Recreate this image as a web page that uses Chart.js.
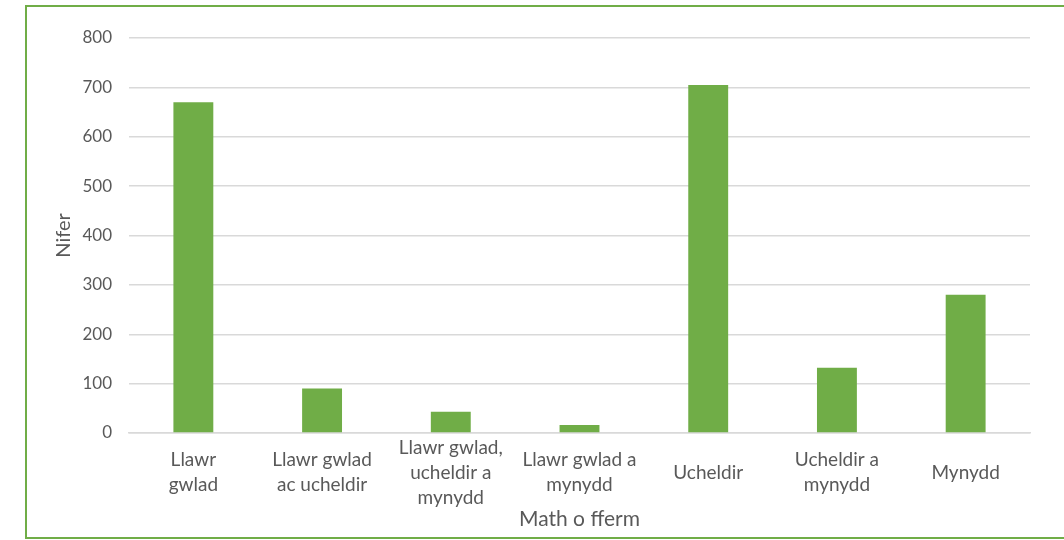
<!DOCTYPE html>
<html>
<head>
<meta charset="utf-8">
<script src="https://cdn.jsdelivr.net/npm/chart.js@4/dist/chart.umd.min.js"></script>
<style>
  html, body { margin: 0; padding: 0; background: #fff; overflow: hidden; }
  #wrap { position: relative; width: 1064px; height: 540px; }
  #frame { position: absolute; left: 25px; top: 5px; width: 1100px; height: 530px;
           border: 2px solid #70ad47; pointer-events: none; }
  canvas { position: absolute; left: 0; top: 0; }
</style>
</head>
<body>
<div id="wrap">
  <canvas id="farmChart" width="1064" height="540"></canvas>
  <div id="frame"></div>
</div>
<script>
// Math o fferm - nifer
const categories = [
    ['Llawr', 'gwlad'],
    ['Llawr gwlad', 'ac ucheldir'],
    ['Llawr gwlad,', 'ucheldir a', 'mynydd'],
    ['Llawr gwlad a', 'mynydd'],
    'Ucheldir',
    ['Ucheldir a', 'mynydd'],
    'Mynydd'
];
const counts = [670, 90, 43, 16, 705, 132, 280];
const yTicks = [0, 100, 200, 300, 400, 500, 600, 700, 800];

const textColor = '#595959';
const fontFamily = 'Lato, "Liberation Sans", sans-serif';

const ctx = document.getElementById('farmChart');
new Chart(ctx.getContext('2d'), {
    type: 'bar',
    data: {
        labels: categories,
        datasets: [{
            label: 'Nifer',
            data: counts,
            backgroundColor: '#70ad47',
            barPercentage: 0.31,
            categoryPercentage: 1
        }]
    },
    options: {
        responsive: false,
        animation: false,
        layout: {
            padding: { left: 48, top: 38, right: 34, bottom: 4 }
        },
        plugins: {
            legend: { display: false },
            tooltip: { enabled: false }
        },
        scales: {
            y: {
                min: yTicks[0],
                max: yTicks[yTicks.length - 1],
                afterBuildTicks: (scale) => {
                    scale.ticks = yTicks.map(v => ({ value: v }));
                },
                afterFit: (scale) => { scale.width = 81; },
                border: { display: false },
                grid: {
                    color: '#d9d9d9',
                    lineWidth: 1.5,
                    drawTicks: false
                },
                ticks: {
                    color: textColor,
                    padding: 17,
                    font: { family: fontFamily, size: 17 }
                },
                title: {
                    display: true,
                    text: 'Nifer',
                    color: textColor,
                    font: { family: fontFamily, size: 20 }
                }
            },
            x: {
                afterFit: (scale) => { scale.height = 103; },
                border: { color: '#d9d9d9', width: 1.5 },
                grid: { display: false, drawTicks: false },
                ticks: {
                    color: textColor,
                    padding: 15,
                    maxRotation: 0,
                    autoSkip: false,
                    crossAlign: 'center',
                    font: { family: fontFamily, size: 19, lineHeight: 1.3 }
                },
                title: {
                    display: true,
                    text: 'Math o fferm',
                    color: textColor,
                    font: { family: fontFamily, size: 21 }
                }
            }
        }
    }
});
</script>
</body>
</html>
